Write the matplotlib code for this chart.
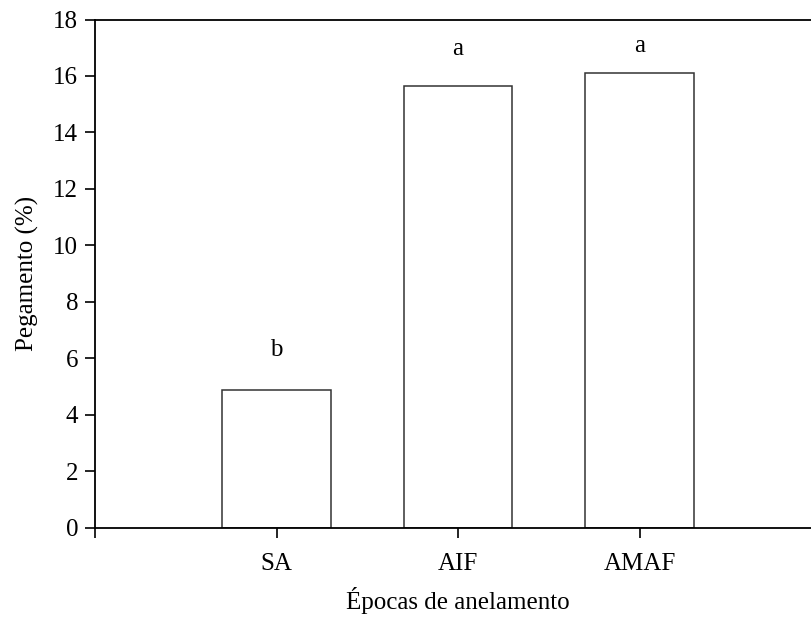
import matplotlib.pyplot as plt

# Datos
epocas = ['SA', 'AIF', 'AMAF']
pegamento = [4.88, 15.66, 16.12]
letras = ['b', 'a', 'a']
letra_y = [6.3, 16.95, 17.05]

plt.rcParams['font.family'] = ['Liberation Serif', 'STIXGeneral', 'DejaVu Serif']

fig = plt.figure(figsize=(8.11, 6.18), dpi=100)
ax = fig.add_axes([95 / 811, 90.5 / 618, 726 / 811, 508 / 618])

pos = [1, 2, 3]
ax.bar(pos, pegamento, width=0.6, color='white', edgecolor='#333333', linewidth=1.1)
for x, l, y in zip(pos, letras, letra_y):
    ax.text(x, y, l, ha='center', va='center', fontsize=18)

ax.set_xlim(0, 4)
ax.set_ylim(0, 18)
ax.set_yticks(range(0, 19, 2))
ax.set_xticks([0, 1, 2, 3, 4])
ax.set_xticklabels(['', 'SA', 'AIF', 'AMAF', ''])
ax.tick_params(direction='out', length=7, width=1.2, labelsize=18, pad=11)
ax.tick_params(axis='y', pad=5)
for s in ax.spines.values():
    s.set_linewidth(1.3)
ax.spines['right'].set_visible(False)

ax.set_xlabel('Épocas de anelamento', fontsize=18, labelpad=9)
ax.set_ylabel('Pegamento (%)', fontsize=18, labelpad=10)

fig.savefig('out.png', dpi=100)
